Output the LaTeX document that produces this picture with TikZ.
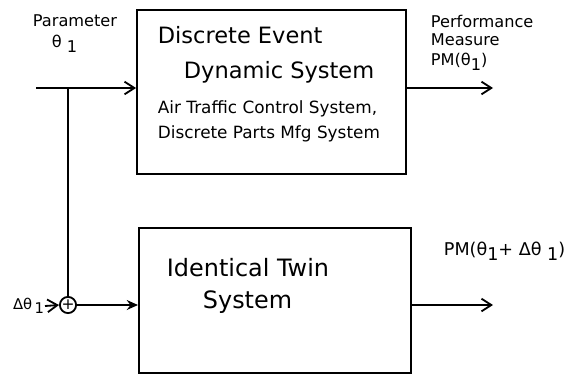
\documentclass[tikz,border=0pt]{standalone}
\usepackage{fontspec}
\setmainfont{DejaVu Sans}
\usetikzlibrary{positioning,calc,arrows.meta}

\newcommand{\lowone}{\raisebox{-0.55ex}{1}}

\begin{document}
\begin{tikzpicture}[x=0.025cm, y=-0.025cm,
        block/.style={draw, rectangle, line width=1.3pt, inner sep=0pt},
        txt/.style={anchor=west, inner sep=0pt},
        big/.style={txt, font=\fontsize{16}{18}\selectfont},
        small/.style={txt, font=\fontsize{12}{14}\selectfont},
        lbl/.style={txt, font=\fontsize{11.5}{13}\selectfont},
        sumnode/.style={draw, circle, line width=1.3pt, inner sep=0pt, minimum size=0.4cm, font=\fontsize{11}{11}\selectfont},
        >={Straight Barb[length=7pt, width=9pt]},
        line width=1.3pt
    ]
        \useasboundingbox (0,0) rectangle (570,383);

        \node [block, minimum width=6.725cm, minimum height=4.1cm] (des) at (271.5,92) {};
        \node [block, minimum width=6.8cm, minimum height=3.625cm] (twin) at (275,300.5) {};
        \node [sumnode] (sum) at (68,305) {+};

        % text in the boxes
        \node [big] (desa) at (157,35) {Discrete Event};
        \node [big] (desb) at (183,72) {Dynamic System};
        \node [small] (desc) at (157,109) {Air Traffic Control System,};
        \node [small] (desd) at (157,134) {Discrete Parts Mfg System};
        \node [big, font=\fontsize{17}{19}\selectfont] (twina) at (166,268) {Identical Twin};
        \node [big, font=\fontsize{17}{19}\selectfont] (twinb) at (202,302) {System};

        % outside labels
        \node [lbl] (par) at (32,21) {Parameter};
        \node [lbl] (theta) at (51,44) {θ \lowone};
        \node [lbl] (perf) at (430,21) {Performance};
        \node [lbl] (meas) at (430,40) {Measure};
        \node [lbl] (pm) at (430,62) {PM(θ\lowone)};
        \node [lbl, font=\fontsize{12.5}{14}\selectfont] (pmd) at (443,251) {PM(θ\lowone+ Δθ \lowone)};
        \node [lbl, anchor=east, font=\fontsize{10.5}{12}\selectfont] (dth) at (45,306) {Δθ\,\lowone};

        \coordinate (in) at (36,88);
        \coordinate (tap) at (68,88);
        \coordinate (out) at (493,88);
        \coordinate (outb) at (493,305);

        \draw [->] (in) -- (in -| des.west);
        \draw (tap) -- (sum.north);
        \draw [->] (dth.east) -- (sum.west);
        \draw [-{Stealth[length=8pt, width=7pt]}] (sum.east) -- (sum -| twin.west);
        \draw [->] (out -| des.east) -- (out);
        \draw [->] (outb -| twin.east) -- (outb);

    \end{tikzpicture}
\end{document}
